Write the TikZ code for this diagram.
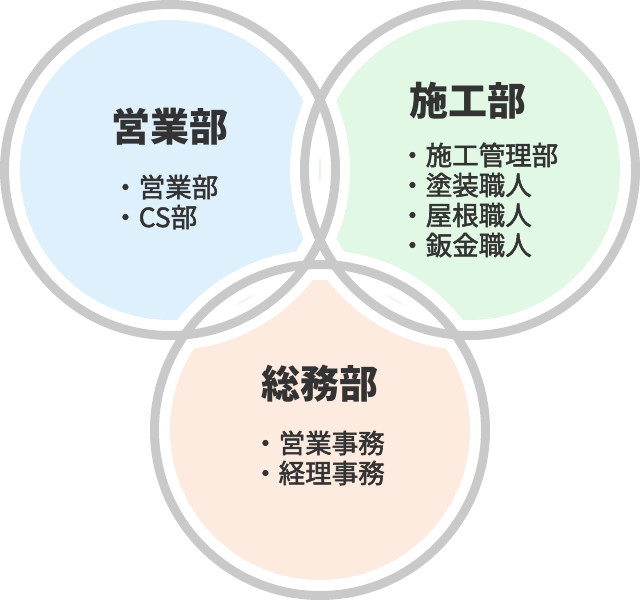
\documentclass[tikz,border=0pt]{standalone}
\usepackage{fontspec}
\setmainfont{Noto Sans CJK JP}
\newfontfamily\medfont[FakeBold=2]{Noto Sans CJK JP}
\usetikzlibrary{positioning}
\definecolor{ringgray}{HTML}{C9C9C9}
\definecolor{textgray}{HTML}{333333}
\definecolor{eigyofill}{HTML}{DDF0FB}
\definecolor{sekofill}{HTML}{E1F8E4}
\definecolor{somufill}{HTML}{FCEBDE}

\begin{document}
\begin{tikzpicture}[x=1pt,y=-1pt,
  title/.style={font=\fontsize{39}{39}\selectfont\bfseries, text=textgray},
  items/.style={font=\medfont\fontsize{26.5}{30}\selectfont, text=textgray, align=left, anchor=west, inner sep=0pt}]
\useasboundingbox (0,0) rectangle (640,600);
\fill[eigyofill] (170,170) circle (150);
\fill[sekofill] (470,170) circle (150);
\fill[somufill] (320,430) circle (150);
\foreach \c in {(170,170),(470,170),(320,430)}
  \draw[white, line width=29] \c circle (165.5);
\foreach \c in {(170,170),(470,170),(320,430)}
  \draw[ringgray, line width=9] \c circle (165.5);
\node[title] (eigyo) at (170,127) {営業部};
\node[title] (seko) at (468,101) {施工部};
\node[title] (somu) at (320,384) {総務部};
\node[items] (eigyolist) at (112,202) {・営業部\\・CS部};
\node[items] (sekolist) at (399,200) {・施工管理部\\・塗装職人\\・屋根職人\\・鈑金職人};
\node[items] (somulist) at (252,458) {・営業事務\\・経理事務};
\end{tikzpicture}
\end{document}
